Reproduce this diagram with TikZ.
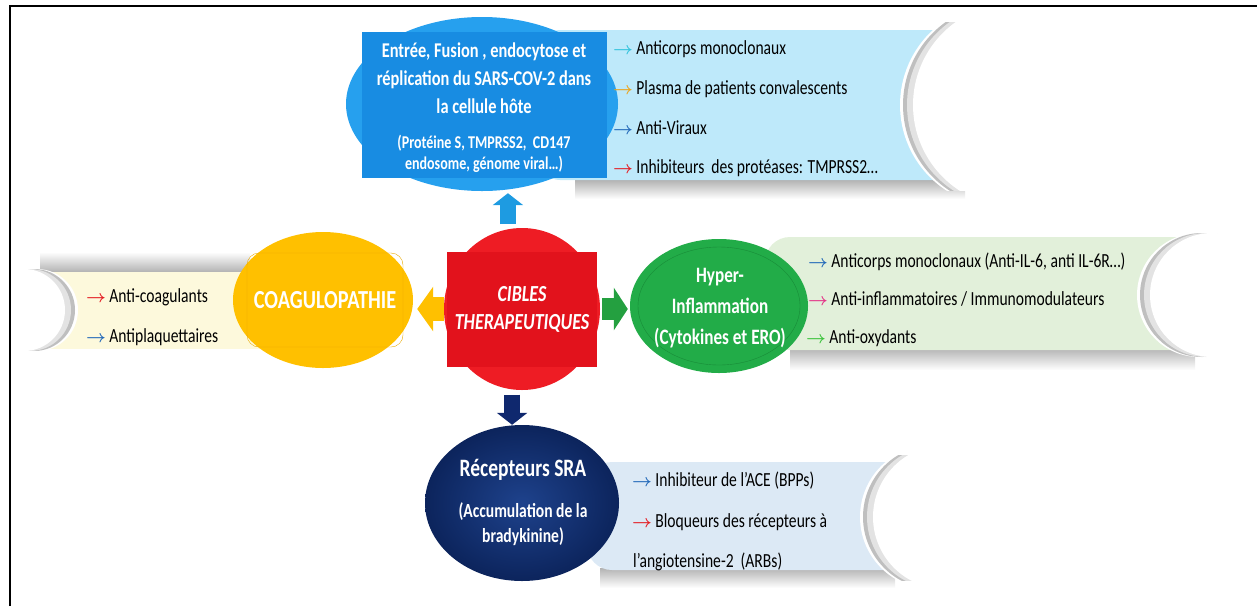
\documentclass[tikz,border=0pt]{standalone}
\usepackage{fontspec}
\setmainfont{Carlito}[FakeStretch=0.78]
\usetikzlibrary{shapes.geometric, arrows.meta}

\definecolor{bleuovale}{RGB}{38,160,238}
\definecolor{bleurect}{RGB}{24,140,226}
\definecolor{bleupanneau}{RGB}{190,233,250}
\definecolor{rougecercle}{RGB}{238,28,36}
\definecolor{rougerect}{RGB}{226,18,28}
\definecolor{or}{RGB}{255,192,0}
\definecolor{orbord}{RGB}{232,168,0}
\definecolor{jaunepanneau}{RGB}{253,249,220}
\definecolor{vert}{RGB}{34,172,72}
\definecolor{vertbord}{RGB}{24,140,56}
\definecolor{vertfleche}{RGB}{36,160,64}
\definecolor{vertpanneau}{RGB}{226,240,218}
\definecolor{marine}{RGB}{12,36,92}
\definecolor{marineclair}{RGB}{30,66,140}
\definecolor{marinefleche}{RGB}{15,40,110}
\definecolor{marinepanneau}{RGB}{220,233,245}
\definecolor{bleufleche}{RGB}{30,155,225}
\definecolor{fcyan}{RGB}{50,195,220}
\definecolor{forange}{RGB}{235,165,30}
\definecolor{fbleu}{RGB}{35,105,185}
\definecolor{frouge}{RGB}{228,30,36}
\definecolor{frose}{RGB}{228,50,135}
\definecolor{fvert}{RGB}{60,195,60}

\newcommand{\fleche}[1]{{\color{#1}\fontsize{18}{18}\selectfont\boldmath$\rightarrow$}\,}
\newcommand{\creux}[6]{%
  \begin{scope}
    \clip ({#1-#3-25},#4) rectangle ({#1+#3+25},#5);
    \fill[white] (#1,#2) circle (#3pt);
    \fill[gray!50] ({#1+(#6)*3},#2) circle (#3pt);
    \fill[gray!22] ({#1+(#6)*7},#2) circle (#3pt);
    \fill[white] ({#1+(#6)*13},#2) circle (#3pt);
  \end{scope}}

\tikzset{
  oval/.style={ellipse, fill=#1, inner sep=0pt},
  titre/.style={text=white, align=center, inner sep=0pt},
  liste/.style={anchor=base west, inner sep=0pt, font=\fontsize{20}{24}\selectfont},
  blockarrow/.style={draw=#1, line width=16pt, -{Triangle[width=30pt,length=12pt]}},
}

\begin{document}
\begin{tikzpicture}[x=1pt, y=-1pt]
\useasboundingbox (0,0) rectangle (1257,606);

\shade[top color=gray!60, bottom color=white] (575,180) rectangle (965,199);
\fill[bleupanneau, rounded corners=20pt] (540,30) rectangle (1000,180);
\creux{1002}{105}{102}{22}{190}{1}

\shade[top color=white, bottom color=gray!60] (40,252) rectangle (250,272);
\fill[jaunepanneau] (30,272) rectangle (260,349);
\creux{37}{310}{41}{264}{358}{-1}

\shade[top color=gray!60, bottom color=white] (790,348) rectangle (1195,370);
\fill[vertpanneau, rounded corners=25pt] (765,237) rectangle (1210,350);
\creux{1199}{295}{62}{230}{362}{1}

\shade[top color=gray!60, bottom color=white] (600,568) rectangle (895,588);
\fill[marinepanneau, rounded corners=25pt] (587,462) rectangle (940,570);
\creux{932}{517}{72}{455}{580}{1}

\node[oval=bleuovale, minimum width=272pt, minimum height=174pt] (entree) at (482,104) {};
\node[fill=bleurect, minimum width=245pt, minimum height=146pt, inner sep=0pt] (entreeRect) at (484,105) {};
\node[titre, font=\bfseries\fontsize{21}{28}\selectfont] (entreeTitre) at (484,78) {Entrée, Fusion , endocytose et\\réplication du SARS-COV-2 dans\\la cellule hôte};
\node[titre, font=\bfseries\fontsize{18}{21}\selectfont] (entreeDetail) at (484,154) {(Protéine S, TMPRSS2,\ \ CD147\\endosome, génome viral…)};

\node[oval=rougecercle, minimum width=156pt, minimum height=162pt] (cible) at (522,309) {};
\node[fill=rougerect, minimum width=150pt, minimum height=115pt, titre, font=\bfseries\itshape\fontsize{23}{28}\selectfont] (cibleTxt) at (522,309) {CIBLES\\THERAPEUTIQUES};

\node[oval=or, minimum width=180pt, minimum height=136pt] (coag) at (323,300) {};
\node[draw=orbord, rounded corners=12pt, minimum width=156pt, minimum height=94pt, titre, font=\bfseries\fontsize{26}{30}\selectfont] (coagTxt) at (325,300) {COAGULOPATHIE};

\node[oval=vert, minimum width=178pt, minimum height=134pt] (inflam) at (719,306) {};
\draw[vertbord] (inflam.center) ellipse (81pt and 59pt);
\node[titre, font=\bfseries\fontsize{22}{31}\selectfont] (inflamTxt) at (720,308) {Hyper-\\Inflammation\\(Cytokines et ERO)};

\node[ellipse, inner color=marineclair, outer color=marine, minimum width=194pt, minimum height=156pt] (sra) at (522,503) {};
\node[titre, font=\bfseries\fontsize{25}{30}\selectfont] (sraTitre) at (523,470) {Récepteurs SRA};
\node[titre, font=\bfseries\fontsize{20}{25}\selectfont] (sraDetail) at (523,524) {(Accumulation de la\\bradykinine)};

\draw[blockarrow=bleufleche, shorten <=5pt, shorten >=2pt] (cible.100) -- (cible.100 |- entree.south);
\draw[blockarrow=marinefleche, shorten <=5pt, shorten >=0pt] (cible.263) -- (cible.263 |- sra.north);
\draw[blockarrow=or, line width=24pt, -{Triangle[width=44pt,length=16pt]}, shorten >=4pt] (cible.west) -- (cible.west -| coag.east);
\draw[blockarrow=vertfleche, line width=22pt, -{Triangle[width=42pt,length=14pt]}, shorten <=2pt, shorten >=2pt] (cible.east) -- (cible.east -| inflam.west);

\node[liste] (e1) at (613,54) {\fleche{fcyan}Anticorps monoclonaux};
\node[liste] (e2) at (613,94) {\fleche{forange}Plasma de patients convalescents};
\node[liste] (e3) at (613,134) {\fleche{fbleu}Anti-Viraux};
\node[liste] (e4) at (613,173) {\fleche{frouge}Inhibiteurs\ \ des protéases: TMPRSS2…};

\node[liste] (c1) at (86,302) {\fleche{frouge}Anti-coagulants};
\node[liste] (c2) at (86,342) {\fleche{fbleu}Antiplaquettaires};

\node[liste] (i1) at (808,267) {\fleche{fbleu}Anticorps monoclonaux (Anti-IL-6, anti IL-6R…)};
\node[liste] (i2) at (808,305) {\fleche{frose}Anti-inflammatoires / Immunomodulateurs};
\node[liste] (i3) at (806,343) {\fleche{fvert}Anti-oxydants};

\node[liste] (s1) at (632,486) {\fleche{fbleu}Inhibiteur de l’ACE (BPPs)};
\node[liste] (s2) at (632,527) {\fleche{frouge}Bloqueurs des récepteurs à};
\node[liste] (s3) at (633,567) {l’angiotensine-2\ \ (ARBs)};

\draw[line width=2pt] (10,606) -- (10,6) -- (1257,6);
\end{tikzpicture}
\end{document}
